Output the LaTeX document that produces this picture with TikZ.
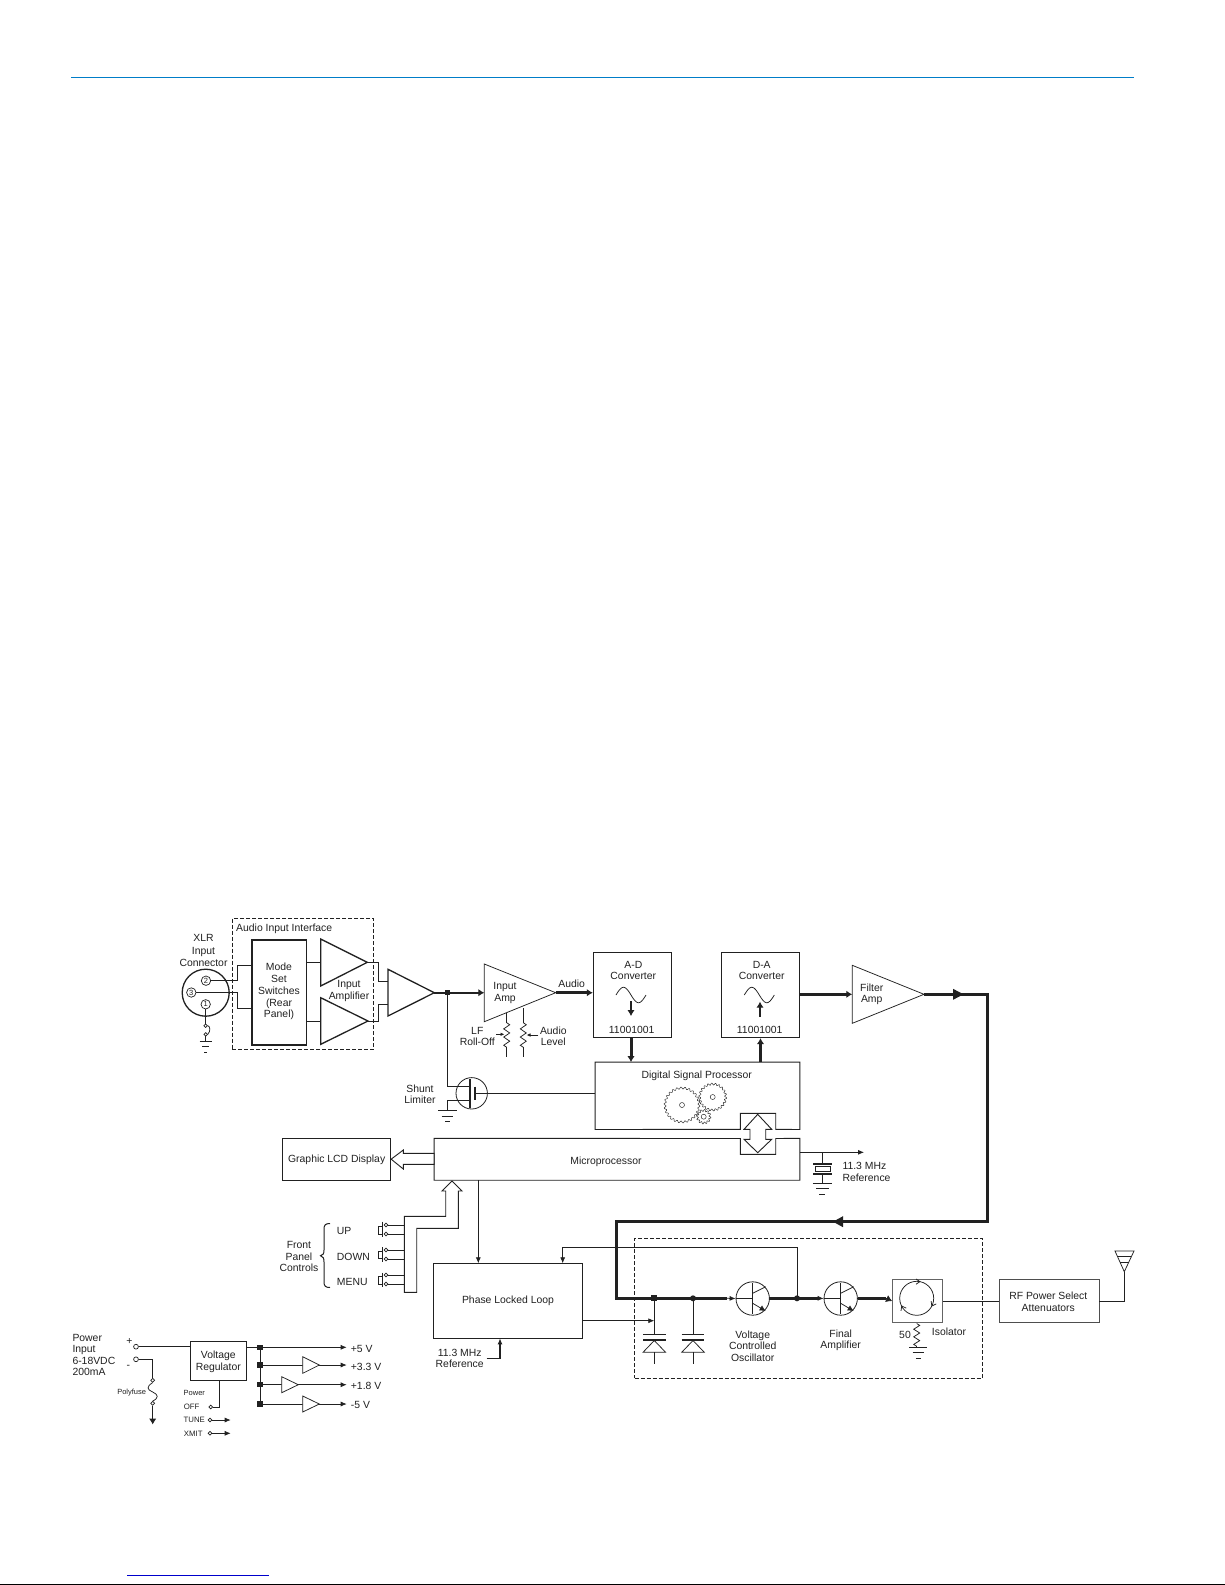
\documentclass[tikz,border=0pt]{standalone}
\usepackage{fontspec}
\setmainfont{Liberation Sans}
\usetikzlibrary{arrows.meta,fit}
\definecolor{ink}{gray}{0.13}
\definecolor{rule}{RGB}{0,125,200}
\definecolor{linkblue}{RGB}{0,0,204}
\newcommand{\zigzagres}[3]{\draw[wire] (#1,#2) -- ++(3,#3*0.5) -- ++(-6,#3) -- ++(6,#3) -- ++(-6,#3) -- ++(6,#3) -- ++(-6,#3) -- ++(3,#3*0.5);}
\newcommand{\gearwheel}[5]{\draw[line width=0.45pt,ink] plot[domain=0:360,samples=#5,smooth cycle] ({#1+(#3+1.0*sin(#4*\x))*cos(\x)},{#2+(#3+1.0*sin(#4*\x))*sin(\x)});}
\newcommand{\earth}[5]{\draw[wire] (#1-#3,#2) -- (#1+#3,#2); \draw[wire] (#1-#4,#2+5.5) -- (#1+#4,#2+5.5); \draw[wire] (#1-#5,#2+11) -- (#1+#5,#2+11);}
\tikzset{
  wire/.style={line width=0.75pt,ink},
  midline/.style={line width=2pt,ink},
  heavy/.style={line width=3pt,ink},
  arr/.style={-{Latex[length=6pt,width=5pt]}},
  arrb/.style={-{Latex[length=6pt,width=7.5pt]}},
  blk/.style={draw=ink,line width=0.9pt,fill=white,inner sep=0pt},
  bare/.style={inner sep=0pt},
  tx/.style={inner sep=0pt,align=center,text=ink,yshift=-1.2pt,font=\fontsize{10.4}{11.6}\selectfont},
  txl/.style={inner sep=0pt,align=left,text=ink,anchor=west,yshift=-1.2pt,font=\fontsize{10.4}{11.6}\selectfont},
  txs/.style={inner sep=0pt,align=center,text=ink,font=\fontsize{7.5}{9}\selectfont},
  pin/.style={circle,draw=ink,line width=0.7pt,minimum size=9.4pt,inner sep=0pt,text=ink,font=\fontsize{7.5}{8}\selectfont},
  contact/.style={circle,draw=ink,line width=0.7pt,minimum size=4.8pt,inner sep=0pt},
  sq/.style={fill=ink,minimum size=5.5pt,inner sep=0pt},
  dotj/.style={circle,fill=ink,minimum size=6pt,inner sep=0pt},
  tri/.style={draw=ink,line join=miter},
  dashbox/.style={draw=ink,line width=0.8pt,dash pattern=on 4pt off 2pt},
  hollow/.style={draw=ink,line width=0.9pt,fill=white,line join=miter}
}
\begin{document}
\begin{tikzpicture}[x=1pt,y=-1pt]
\useasboundingbox (0,0) rectangle (1225,1585);
\fill[white] (0,0) rectangle (1225,1585);
% page rules
\draw[rule,line width=1pt] (71,77) -- (1134,77);
\draw[linkblue,line width=1pt] (127,1575) -- (269,1575);
\draw[black,line width=1pt] (0,1584) -- (1225,1584);

% ---------- XLR connector
\node[circle,draw=ink,line width=1.3pt,minimum size=47pt,inner sep=0pt] (xlr) at (205.7,992.7) {};
\node[pin] (p2) at (206,980.7) {2};
\node[pin] (p3) at (191.3,992.5) {3};
\node[pin] (p1) at (205.7,1004.3) {1};
\node[tx] (xlrlabel) at (203.5,949.4) {XLR\\[0.6pt]Input\\[0.6pt]Connector};
\node[contact,minimum size=3.5pt] (f1) at (205.7,1025.7) {};
\node[contact,minimum size=3.5pt] (f2) at (205.7,1034.3) {};
\draw[wire] (p1.south) -- (f1.north);
\draw[wire] (f1.east) .. controls (210,1026) and (211,1031) .. (f2.east);
\draw[wire] (f2.south) -- (205.7,1041);
\earth{205.7}{1041}{6}{3.5}{1.5}

% ---------- Audio input interface
\node[dashbox,fit={(232.3,918.3) (373.7,1049.3)},inner sep=0pt] (aii) {};
\node[txl] (aiilabel) at (236,927.7) {Audio Input Interface};
\node[blk,line width=1.5pt,fit={(252,940) (306.7,1045)}] (mode) {};
\node[tx] (modelabel) at (279,990.5) {Mode\\[0.2pt]Set\\[0.2pt]Switches\\(Rear\\[0.2pt]Panel)};
\draw[wire] (p2.east) -- (237.7,980.7) -- (237.7,965) -- (mode.west |- 237.7,965);
\draw[wire] (p3.east) -- (237.7,992.5) -- (237.7,1008.3) -- (mode.west |- 237.7,1008.3);
\draw[tri,line width=1.3pt] (320.7,939) -- (320.7,986) -- (367.3,962.3) -- cycle;
\draw[tri,line width=1.3pt] (320.7,997.7) -- (320.7,1044.3) -- (368,1021) -- cycle;
\draw[tri,line width=1.3pt] (388,969.3) -- (388,1016) -- (434.3,992.7) -- cycle;
\coordinate (a1i) at (320.7,962.3);
\coordinate (a2i) at (320.7,1021);
\coordinate (a1o) at (367.3,962.3);
\coordinate (a2o) at (368,1021);
\coordinate (a3o) at (434.3,992.7);
\draw[wire] (mode.east |- a1i) -- (a1i);
\draw[wire] (mode.east |- a2i) -- (a2i);
\draw[wire] (a1o) -- (378.3,962.3) -- (378.3,981) -- (388,981);
\draw[wire] (a2o) -- (378.3,1021) -- (378.3,1004) -- (388,1004);
\node[tx] (inamp) at (349,989.7) {Input\\[-0.2pt]Amplifier};

% ---------- Input amp
\draw[tri,wire] (484.3,964) -- (484.3,1021.7) -- (555.7,992.7) -- cycle;
\coordinate (ia) at (484.3,992.7);
\coordinate (io) at (555.7,992.7);
\node[tx] (inamplabel) at (505,991.8) {Input\\[-0.2pt]Amp};
\node[sq] (j1) at (447.3,992.7) {};
\draw[midline,arrb] (a3o) -- (ia);
\node[tx] (audio) at (571.7,982.7) {Audio};
\draw[wire] (506.7,1013.3) -- (506.7,1022.7);
\draw[wire] (523.3,1008.3) -- (523.3,1022.7);
\zigzagres{506.7}{1022.7}{4.1}
\zigzagres{523.3}{1022.7}{4.1}
\draw[wire] (506.7,1047.3) -- (506.7,1056.7);
\draw[wire] (523.3,1047.3) -- (523.3,1056.7);
\node[tx] (lf) at (477.3,1035) {LF\\[-0.2pt]Roll-Off};
\node[tx] (level) at (553.3,1035) {Audio\\[-0.2pt]Level};
\coordinate (lfa) at (496,1034.3);
\coordinate (lfb) at (504.5,1034.3);
\coordinate (ala) at (538.3,1035);
\coordinate (alb) at (526.5,1035);
\draw[wire,-{Latex[length=4pt,width=3.5pt]}] (lfa) -- (lfb);
\draw[wire,-{Latex[length=4pt,width=3.5pt]}] (ala) -- (alb);

% ---------- Converters
\node[blk,fit={(593.3,952.3) (671.7,1037.7)}] (ad) {};
\node[blk,fit={(721.3,952.3) (799.7,1037.7)}] (da) {};
\node[tx] (adlabel) at (633.3,969) {A-D\\[-0.2pt]Converter};
\node[tx] (dalabel) at (761.7,969) {D-A\\[-0.2pt]Converter};
\node[tx] (adbits) at (631.7,1028.7) {11001001};
\node[tx] (dabits) at (759.7,1028.7) {11001001};
\draw[wire] plot[domain=0:30,samples=40,smooth] ({616+\x},{995-7.7*sin(12*\x)});
\draw[wire] plot[domain=0:30,samples=40,smooth] ({744.3+\x},{995-7.7*sin(12*\x)});
\coordinate (ada) at (631,1001);
\coordinate (adb) at (631,1016);
\coordinate (daa) at (760,1016.7);
\coordinate (dab) at (760,1001.7);
\draw[line width=1.1pt,ink,arrb] (ada) -- (adb);
\draw[line width=1.1pt,ink,arrb] (daa) -- (dab);
\draw[line width=2.7pt,ink,arrb] (io) -- (ad.west |- io);

% ---------- Filter amp and heavy path
\draw[tri,wire] (852.3,965.3) -- (852.3,1023.3) -- (924,994.3) -- cycle;
\coordinate (fi) at (852.3,994.3);
\coordinate (fo) at (924,994.3);
\node[tx] (filt) at (871.7,993) {Filter\\[-0.2pt]Amp};
\draw[line width=2.7pt,ink,arrb] (da.east |- fi) -- (fi);

% ---------- DSP
\node[bare,fit={(595.3,1062.3) (799.7,1129.3)}] (dsp) {};
\draw[wire,line width=0.9pt] (740.3,1129.3) -- (740.3,1113.3) -- (775.7,1113.3) -- (775.7,1129.3) -- (dsp.south east) -- (dsp.north east) -- (dsp.north west) -- (dsp.south west) -- cycle;
\node[tx] (dsplabel) at (696.7,1074.5) {Digital Signal Processor};
\gearwheel{682}{1105}{17}{26}{313}
\gearwheel{712.7}{1097}{13}{22}{265}
\gearwheel{703.7}{1116.7}{6.3}{12}{145}
\draw[line width=0.45pt,ink] (682,1105) circle[radius=2.5];
\draw[line width=0.45pt,ink] (712.7,1097) circle[radius=2.5];
\draw[line width=0.45pt,ink] (703.7,1116.7) circle[radius=2.5];
\draw[heavy,arrb] (ad.south -| 631,0) -- (dsp.north -| 631,0);
\draw[line width=2.4pt,ink,arrb] (dsp.north -| da.south) -- (da.south);

% ---------- Microprocessor
\node[bare,fit={(434.3,1138.5) (799.7,1180)}] (micro) {};
\draw[wire,line width=0.9pt] (740.3,1138.5) -- (740.3,1154.3) -- (775.7,1154.3) -- (775.7,1138.5) -- (micro.north east) -- (micro.south east) -- (micro.south west) -- (micro.north west) -- cycle;
\node[tx] (microlabel) at (606,1160.5) {Microprocessor};
\draw[hollow] (757.7,1114.3) -- (771.7,1129.3) -- (765.7,1129.3) -- (765.7,1139.3) -- (771.7,1139.3) -- (757.7,1152.7) -- (744,1139.3) -- (750,1139.3) -- (750,1129.3) -- (744,1129.3) -- cycle;

% ---------- LCD
\node[blk,fit={(282.3,1138.3) (390.7,1180)}] (lcd) {};
\node[tx] (lcdlabel) at (336.7,1159) {Graphic LCD Display};
\draw[hollow] (lcd.east) -- (403.3,1150) -- (403.3,1153.3) -- (micro.west |- 403.3,1153.3) -- (micro.west |- 403.3,1164.3) -- (403.3,1164.3) -- (403.3,1169) -- cycle;

% ---------- 11.3 MHz reference (top)
\coordinate (osc) at (864,1152.3);
\draw[wire,arr] (micro.east |- osc) -- (osc);
\draw[wire] (822.3,1152.3) -- (822.3,1164);
\draw[wire,line width=1.1pt] (813.3,1164) -- (832.3,1164);
\draw[wire,fill=white] (815.7,1166.7) rectangle (830,1171.7);
\draw[wire,line width=1.1pt] (813.3,1174) -- (832.3,1174);
\draw[wire] (822.3,1174) -- (822.3,1183.3);
\earth{822.3}{1183.3}{9.5}{6.3}{3}
\node[txl] (osclabel) at (842.3,1170.5) {11.3 MHz\\Reference};

% ---------- Shunt limiter
\node[circle,draw=ink,line width=0.8pt,minimum size=31.4pt,inner sep=0pt] (shunt) at (471.7,1093.3) {};
\draw[wire] (j1.center) -- (447.3,1086.7) -- (470,1086.7);
\draw[wire] (447.3,1100) -- (470,1100);
\draw[wire] (447.3,1100) -- (447.3,1110.7);
\earth{447.5}{1110.7}{9.2}{5.8}{2.5}
\draw[wire,line width=1.1pt] (470,1079) -- (470,1108.3);
\draw[wire,line width=1.1pt] (475,1086.7) -- (475,1100);
\draw[wire] (475,1093.3) -- (dsp.west |- shunt);
\node[tx] (shlabel) at (420,1092.8) {Shunt\\[-0.2pt]Limiter};

% ---------- Front panel controls
\node[tx] (fpc) at (299,1255.3) {Front\\[-0.2pt]Panel\\[-0.2pt]Controls};
\draw[wire,line width=1pt] (330,1223.5) .. controls (325.5,1223.5) and (324,1225) .. (324,1229) -- (324,1250) .. controls (324,1254) and (323,1255) .. (320.5,1255.7) .. controls (323,1256.4) and (324,1258) .. (324,1262) -- (324,1282) .. controls (324,1286) and (325.5,1287.5) .. (330,1287.5);
\node[txl] (up) at (336.7,1230) {UP};
\node[txl] (down) at (336.7,1255.7) {DOWN};
\node[txl] (menu) at (336.7,1280.7) {MENU};
\foreach \nm/\ya/\yb/\ytop/\ybot/\bra/\brb in {ua/1225/1234/1221.7/1236.7/1226/1234,da/1250/1259/1247.3/1262.3/1251.7/1258.3,ma/1275/1284/1272.7/1287.3/1276.7/1284}{
  \node[contact,minimum size=3.6pt] (\nm1) at (386,\ya) {};
  \node[contact,minimum size=3.6pt] (\nm2) at (386,\yb) {};
  \draw[wire] (\nm1.east) -- (404.3,\ya);
  \draw[wire] (\nm2.east) -- (404.3,\yb);
  \draw[wire] (382.3,\ytop) -- (382.3,\ybot);
  \draw[wire] (382.3,\bra) -- (378.3,\bra) -- (378.3,\brb) -- (382.3,\brb);
}
\draw[hollow] (452,1181) -- (462,1191) -- (458.3,1191) -- (458.3,1228.3) -- (416.7,1228.3) -- (416.7,1292.3) -- (404.3,1292.3) -- (404.3,1216.3) -- (445.7,1216.3) -- (445.7,1191) -- (442,1191) -- cycle;

% ---------- PLL
\node[blk,fit={(433.3,1263.3) (582.7,1338.3)}] (pll) {};
\node[tx] (plllabel) at (508,1300) {Phase Locked Loop};
\coordinate (pllin) at (478.3,1263.3);
\draw[wire,arr] (micro.south -| pllin) -- (pllin);
\coordinate (pllfb) at (562.7,1263.3);
\node[tx] (reflabel) at (459.7,1357.2) {11.3 MHz\\[-0.2pt]Reference};
\coordinate (refb) at (500,1338.3);
\draw[wire,line width=1.1pt,arr] (486.7,1358.3) -- (500,1358.3) -- (refb);

% ---------- RF dashed block
\node[dashbox,fit={(634.7,1238.3) (982.3,1378.3)},inner sep=0pt] (rfb) {};
\node[dotj,minimum size=6pt,rectangle] (jv1) at (654.3,1298.3) {};
\node[dotj] (jv2) at (693,1298.3) {};
\node[dotj] (jfb) at (797,1298.3) {};
\node[circle,draw=ink,line width=0.8pt,minimum size=33.4pt,inner sep=0pt] (vco) at (752.7,1298.5) {};
\node[circle,draw=ink,line width=0.8pt,minimum size=33.4pt,inner sep=0pt] (fin) at (840.7,1298.5) {};
\node[blk,draw=ink!70,line width=1.1pt,fit={(892.7,1279.3) (942.3,1322.7)}] (iso) {};
\node[blk,draw=ink!80,fit={(999,1279.3) (1099,1322.7)}] (rfp) {};

% heavy loop
\draw[heavy,line join=miter] (fo) -- (987.3,994.3) -- (987.3,1221.7) -- (616,1221.7) -- (616,1298.3) -- (727,1298.3);
\draw[heavy] (769.3,1298.3) -- (818,1298.3);
\draw[heavy] (858.3,1298.3) -- (886,1298.3);
\fill[ink] (963.5,994.3) -- (953,988.8) -- (953,999.8) -- cycle;
\fill[ink] (833,1221.7) -- (843,1216.2) -- (843,1227.2) -- cycle;
\draw[wire,arr] (727,1298.3) -- (vco.west);
\draw[wire,arr] (818,1298.3) -- (fin.west);
\draw[wire,arrb] (886,1298.3) -- (iso.west);

% transistors
\draw[wire] (vco.west) -- (752.7,1298.5);
\draw[wire] (fin.west) -- (840.7,1298.5);
\foreach \tn/\cx in {vco/752.7,fin/840.7}{
  \draw[ink,line width=1.3pt] (\cx,1283.3) -- (\cx,1314);
  \draw[wire] (\cx,1293.3) -- (\cx+13,1286.7);
  \draw[wire,-{Latex[length=6pt,width=6pt]}] (\cx,1303.3) -- (\cx+13,1311);
}
\draw[wire,arr] (jfb.center) -- (797,1247.5) -- (562.7,1247.5) -- (pllfb);
\draw[wire,arr] (pll.east |- 0,1320.7) -- (jv1 |- 0,1320.7);

% varactors
\foreach \vx/\jn in {654.3/jv1,693/jv2}{
  \draw[wire] (\jn.center) -- (\vx,1334.3);
  \draw[wire,line width=1.1pt] (\vx-11.3,1334.3) -- (\vx+11.3,1334.3);
  \draw[wire,line width=1.1pt] (\vx-11.3,1340) -- (\vx+11.3,1340);
  \draw[wire] (\vx-11.3,1352.3) -- (\vx+11.3,1352.3) -- (\vx,1340.5) -- cycle;
  \draw[wire] (\vx,1352.3) -- (\vx,1364);
}
\node[tx] (vcolabel) at (752.7,1344.8) {Voltage\\[-0.2pt]Controlled\\[-0.2pt]Oscillator};
\node[tx] (finlabel) at (840.7,1339) {Final\\[-0.2pt]Amplifier};

% isolator
\draw[wire] (916.7,1298.3) circle[radius=17];
\draw[wire] (916,1279) -- (920,1281.6) -- (916,1284.2);
\draw[wire] (936.3,1303.9) -- (931.8,1306) -- (931.1,1301.1);
\draw[wire] (906.2,1308.1) -- (901.7,1306) -- (901,1310.9);
\node[tx] (fifty) at (905,1333.3) {50};
\node[tx] (isolabel) at (949,1331) {Isolator};
\zigzagres{916.7}{1323.5}{3.8}
\draw[wire] (916.7,1346.3) -- (916.7,1347.3);
\earth{918.3}{1347.3}{9}{5.7}{2.5}

% RF select and antenna
\node[tx] (rfplabel) at (1048.3,1300.5) {RF Power Select\\[-0.2pt]Attenuators};
\draw[wire] (iso.east) -- (rfp.west);
\coordinate (ant) at (1124.3,1271.7);
\draw[wire] (rfp.east) -- (ant |- rfp.east) -- (ant);
\draw[wire,line join=miter] (1115,1251) -- (1134,1251) -- (ant) -- cycle;
\draw[wire] (1117.6,1256.7) -- (1131.4,1256.7);
\draw[wire] (1120.2,1262.3) -- (1128.8,1262.3);

% ---------- Power section
\node[txl] (pwr) at (72.3,1353.7) {Power\\[-0.2pt]Input\\[-0.2pt]6-18VDC\\[-0.2pt]200mA};
\node[tx] (plus) at (129.3,1340) {+};
\node[tx] (minus) at (128.3,1365.7) {-};
\node[contact] (cp) at (136,1346.7) {};
\node[contact] (cm) at (136,1359.3) {};
\node[blk,fit={(190,1341.7) (246.7,1380)}] (vr) {};
\node[tx] (vrlabel) at (218.3,1360.5) {Voltage\\[-0.2pt]Regulator};
\draw[wire] (cp.east) -- (vr.west |- cp.east);
\node[contact,minimum size=3.8pt] (pf1) at (152.7,1380.3) {};
\node[contact,minimum size=3.8pt] (pf2) at (152.7,1403.3) {};
\draw[wire] (cm.east) -- (152.7,1359.3) -- (pf1.north);
\draw[wire] (pf1.south) .. controls (146,1387) and (147,1389.5) .. (152.7,1392) .. controls (158.5,1394.5) and (159,1398) .. (pf2.north);
\coordinate (pfend) at (152.7,1424.5);
\draw[wire,line width=1pt,arrb] (pf2.south) -- (pfend);
\node[txs] (polyfuse) at (131.7,1392.7) {Polyfuse};
\node[txs] (powerlbl) at (194.3,1393.3) {Power};
\node[txs,font=\fontsize{7.8}{9}\selectfont] (offl) at (191.7,1407) {OFF};
\node[txs,font=\fontsize{7.8}{9}\selectfont] (tunel) at (194.3,1420) {TUNE};
\node[txs,font=\fontsize{7.8}{9}\selectfont] (xmitl) at (193.3,1433.3) {XMIT};
\node[contact,minimum size=3.8pt] (coff) at (210.7,1407) {};
\node[contact,minimum size=3.8pt] (ctune) at (210,1420) {};
\node[contact,minimum size=3.8pt] (cxmit) at (210,1433.3) {};
\draw[wire] (coff.east) -- (219.3,1407) -- (219.3,1380);
\coordinate (ttune) at (230.7,1420);
\coordinate (txmit) at (230.7,1433.3);
\draw[wire,arr] (ctune.east) -- (ttune);
\draw[wire,arr] (cxmit.east) -- (txmit);
\node[sq] (b1) at (260,1347.3) {};
\node[sq] (b2) at (260,1365) {};
\node[sq] (b3) at (260,1384.7) {};
\node[sq] (b4) at (260,1404) {};
\draw[wire] (b1.center) -- (b4.center);
\coordinate (e1) at (346.7,1347.3);
\coordinate (e2) at (346.7,1365);
\coordinate (e3) at (346.7,1384.7);
\coordinate (e4) at (346.7,1404);
\draw[wire,arr] (vr.east |- b1) -- (e1);
\draw[wire,arr] (b2.center) -- (e2);
\draw[wire,arr] (b3.center) -- (e3);
\draw[wire,arr] (b4.center) -- (e4);
\draw[wire,fill=white,line join=miter] (302.7,1356.7) -- (302.7,1373.3) -- (319.3,1365) -- cycle;
\draw[wire,fill=white,line join=miter] (281.7,1376.7) -- (281.7,1392.7) -- (298.3,1384.7) -- cycle;
\draw[wire,fill=white,line join=miter] (302.7,1396) -- (302.7,1412) -- (319.3,1404) -- cycle;
\node[txl] (v5) at (350.7,1347.3) {+5 V};
\node[txl] (v33) at (350.7,1366) {+3.3 V};
\node[txl] (v18) at (350.7,1385) {+1.8 V};
\node[txl] (vm5) at (350.7,1404) {-5 V};
\end{tikzpicture}
\end{document}
